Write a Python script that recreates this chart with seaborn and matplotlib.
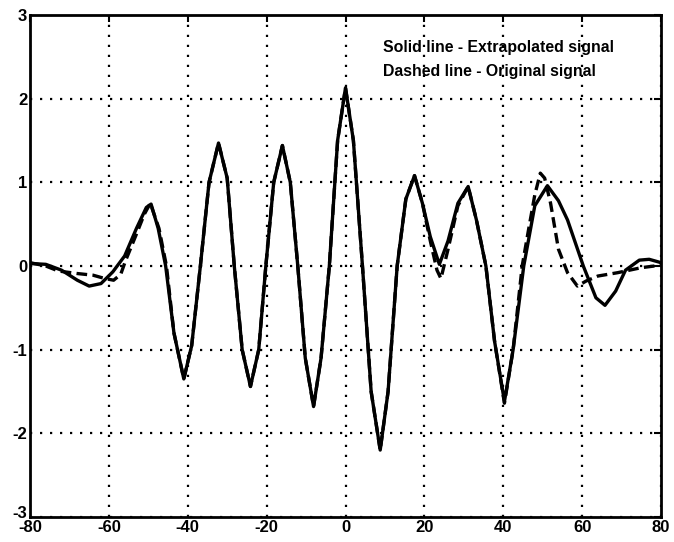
import matplotlib
matplotlib.use("Agg")
import matplotlib.pyplot as plt
import matplotlib.transforms as mtransforms
import seaborn as sns
import pandas as pd

# Extrapolated signal (solid)
solid_x = [-80, -76, -72, -68, -65, -62, -59, -56, -53, -50.5, -49.3, -47.5, -45.6, -43.5, -41,
           -39, -36.8, -34.6, -32.2, -30, -28.2, -26.2, -24.1, -22, -20.2, -18.2, -16, -14,
           -12.1, -10.2, -8.1, -6.2, -4.1, -2, 0, 2, 4.3, 6.5, 8.8, 10.8, 13.1, 15.3, 17.5,
           19.5, 21.5, 23.8, 26, 28.5, 31.1, 33.2, 35.6, 37.8, 40.3, 42.5, 45.2, 48, 51.2,
           54, 56.3, 60.3, 63.5, 65.8, 68.5, 71, 74.5, 77, 80]
solid_y = [0.03, 0.02, -0.05, -0.17, -0.24, -0.21, -0.07, 0.12, 0.45, 0.70, 0.74, 0.45, 0.0, -0.8, -1.35,
           -0.95, 0.0, 1.0, 1.47, 1.05, 0.0, -1.0, -1.44, -1.0, 0.0, 1.0, 1.44, 1.0,
           0.0, -1.1, -1.68, -1.1, 0.0, 1.5, 2.13, 1.5, 0.0, -1.5, -2.2, -1.5, 0.0, 0.8, 1.08,
           0.75, 0.35, 0.02, 0.3, 0.75, 0.95, 0.55, 0.0, -0.9, -1.62, -1.0, 0.0, 0.72, 0.96,
           0.78, 0.55, 0.0, -0.38, -0.47, -0.3, -0.05, 0.07, 0.08, 0.04]

# Original signal (dashed)
dashed_x = [-80, -76, -72.8, -68, -64, -61, -58.8, -57, -55.8, -53.2, -51, -49.5, -47.3, -45.4, -43.5, -41,
            -39, -36.8, -34.6, -32.2, -30, -28.2, -26.2, -24.1, -22, -20.2, -18.2, -16, -14,
            -12.1, -10.2, -8.1, -6.2, -4.1, -2, 0, 2, 4.3, 6.5, 8.8, 10.8, 13.1, 15.3, 17.5,
            19.5, 21.5, 23.2, 24.2, 26, 28.5, 31.1, 33.2, 35.6, 37.8, 40.3, 42.5, 44.8, 46.4,
            48, 49.4, 50.5, 52, 54, 56.3, 58.8, 61, 64, 69, 75, 80]
dashed_y = [0.04, 0.0, -0.06, -0.09, -0.11, -0.15, -0.17, -0.1, 0.06, 0.36, 0.62, 0.75, 0.45, 0.0, -0.8, -1.35,
            -0.95, 0.0, 1.0, 1.47, 1.05, 0.0, -1.0, -1.44, -1.0, 0.0, 1.0, 1.44, 1.0,
            0.0, -1.1, -1.68, -1.1, 0.0, 1.5, 2.13, 1.5, 0.0, -1.5, -2.2, -1.5, 0.0, 0.8, 1.08,
            0.75, 0.3, -0.05, -0.15, 0.2, 0.72, 0.95, 0.55, 0.0, -0.9, -1.64, -1.0, 0.0, 0.43,
            0.85, 1.11, 1.05, 0.75, 0.2, -0.08, -0.24, -0.18, -0.12, -0.08, -0.02, 0.01]

x_ticks = [-80, -60, -40, -20, 0, 20, 40, 60, 80]
y_ticks = [-3, -2, -1, 0, 1, 2, 3]
annot_lines = ["Solid line - Extrapolated signal", "Dashed line - Original signal"]

sns.set_theme(style="white")
plt.rcParams['font.family'] = ['Liberation Sans', 'DejaVu Sans']
plt.rcParams['axes.unicode_minus'] = False

fig = plt.figure(figsize=(6.74, 5.42), dpi=100)
ax = fig.add_axes([30/674, 25/542, 631/674, 502/542])

df_s = pd.DataFrame({"x": solid_x, "y": solid_y})
df_d = pd.DataFrame({"x": dashed_x, "y": dashed_y})
sns.lineplot(data=df_d, x="x", y="y", ax=ax, sort=False, color="black", lw=2.4,
             dashes=False, estimator=None)
ax.lines[-1].set_dashes((3.2, 1.6))
sns.lineplot(data=df_s, x="x", y="y", ax=ax, sort=False, color="black", lw=2.4,
             estimator=None)

ax.set_xlim(-80, 80)
ax.set_ylim(-3, 3)
ax.set_xticks(x_ticks)
ax.set_yticks(y_ticks)
ax.set_xlabel("")
ax.set_ylabel("")
ax.grid(True, color="black", linestyle=(0, (1, 3.5)), linewidth=1.6)
for s in ax.spines.values():
    s.set_color("black")
    s.set_linewidth(2)
ax.tick_params(direction="in", length=5, width=1.5, colors="black",
               top=True, right=True, labelsize=12, pad=2)
for lab in ax.get_xticklabels() + ax.get_yticklabels():
    lab.set_fontweight("bold")

# nudge the lowest y label up a little so it does not collide with "-80"
ylabs = ax.get_yticklabels()
ylabs[0].set_transform(ylabs[0].get_transform() +
                       mtransforms.ScaledTranslation(0, 5/100, fig.dpi_scale_trans))

ax.text(9.6, 2.61, annot_lines[0], fontsize=11.4, fontweight="bold", va="center", ha="left",
        color="black")
ax.text(9.6, 2.33, annot_lines[1], fontsize=11.4, fontweight="bold", va="center", ha="left",
        color="black")

fig.savefig("out.png", dpi=100)
